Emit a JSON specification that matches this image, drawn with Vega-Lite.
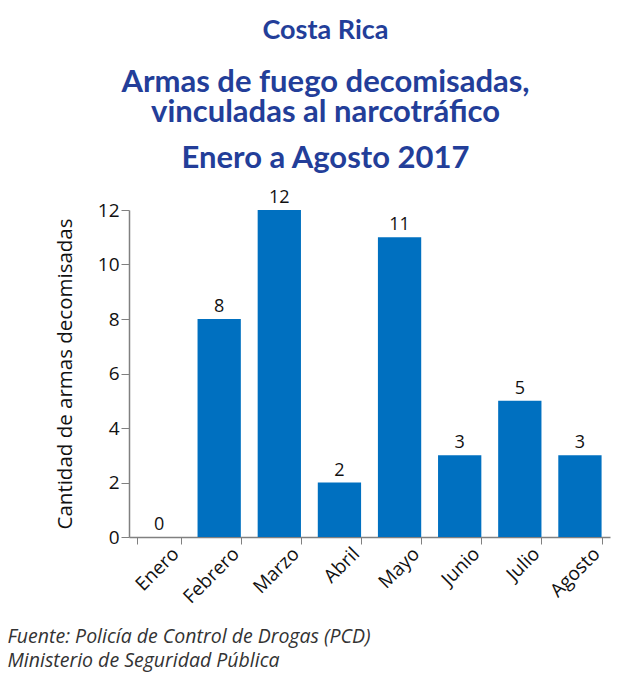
{
  "$schema": "https://vega.github.io/schema/vega-lite/v6.json",
  "autosize": {"type": "pad"},
  "padding": {"left": 7, "top": 17, "right": 5, "bottom": 5},
  "background": "white",
  "title": {
    "text": "Costa Rica",
    "subtitle": ["Armas de fuego decomisadas,", "vinculadas al narcotráfico"],
    "anchor": "middle",
    "frame": "group",
    "dx": -44,
    "offset": 14,
    "font": "Lato",
    "fontSize": 27,
    "fontWeight": "bold",
    "color": "#233E99",
    "subtitleFont": "Lato",
    "subtitleFontSize": 31,
    "subtitleFontWeight": "bold",
    "subtitleColor": "#233E99",
    "subtitleLineHeight": 30,
    "subtitlePadding": 23
  },
  "data": {
    "values": [
      {"mes": "Enero", "armas": 0},
      {"mes": "Febrero", "armas": 8},
      {"mes": "Marzo", "armas": 12},
      {"mes": "Abril", "armas": 2},
      {"mes": "Mayo", "armas": 11},
      {"mes": "Junio", "armas": 3},
      {"mes": "Julio", "armas": 5},
      {"mes": "Agosto", "armas": 3}
    ]
  },
  "vconcat": [
    {
      "width": 481,
      "height": 327,
      "title": {
        "text": "Enero a Agosto 2017",
        "anchor": "middle",
        "frame": "group",
        "dx": -44,
        "offset": 14,
        "font": "Lato",
        "fontSize": 31,
        "fontWeight": "bold",
        "color": "#233E99"
      },
      "encoding": {
        "x": {
          "field": "mes",
          "type": "nominal",
          "sort": null,
          "scale": {"paddingInner": 0.28, "paddingOuter": 0.14},
          "axis": {
            "title": ["Fuente: Policía de Control de Drogas (PCD)", "Ministerio de Seguridad Pública"],
            "titleFont": "Open Sans",
            "titleFontStyle": "italic",
            "titleFontWeight": "normal",
            "titleFontSize": 19.5,
            "titleColor": "#333333",
            "titleAnchor": "start",
            "titleAlign": "left",
            "titleX": -122,
            "titleY": 90,
            "titleLineHeight": 24,
            "labelAngle": -45,
            "labelFont": "Open Sans",
            "labelFontSize": 19,
            "labelColor": "#111111",
            "labelPadding": 0,
            "labelOffset": 10,
            "tickBand": "extent",
            "tickSize": 7,
            "tickColor": "#808080",
            "domainColor": "#808080",
            "domainWidth": 1.5
          }
        },
        "y": {
          "field": "armas",
          "type": "quantitative",
          "scale": {"domain": [0, 12], "nice": false},
          "axis": {
            "title": "Cantidad de armas decomisadas",
            "titleFont": "Open Sans",
            "titleFontWeight": "normal",
            "titleFontSize": 20.5,
            "titleColor": "#111111",
            "titlePadding": 22,
            "values": [0, 2, 4, 6, 8, 10, 12],
            "grid": false,
            "labelFont": "Open Sans",
            "labelFontSize": 19,
            "labelColor": "#111111",
            "labelPadding": 2,
            "tickSize": 8,
            "tickColor": "#808080",
            "domainColor": "#808080",
            "domainWidth": 1.5
          }
        }
      },
      "layer": [
        {"mark": {"type": "bar", "color": "#0070C0"}},
        {
          "mark": {"type": "text", "baseline": "bottom", "dy": -3, "font": "Open Sans", "fontSize": 18, "color": "#111111"},
          "encoding": {"text": {"field": "armas", "type": "quantitative"}}
        }
      ]
    }
  ],
  "config": {"view": {"stroke": null}}
}
